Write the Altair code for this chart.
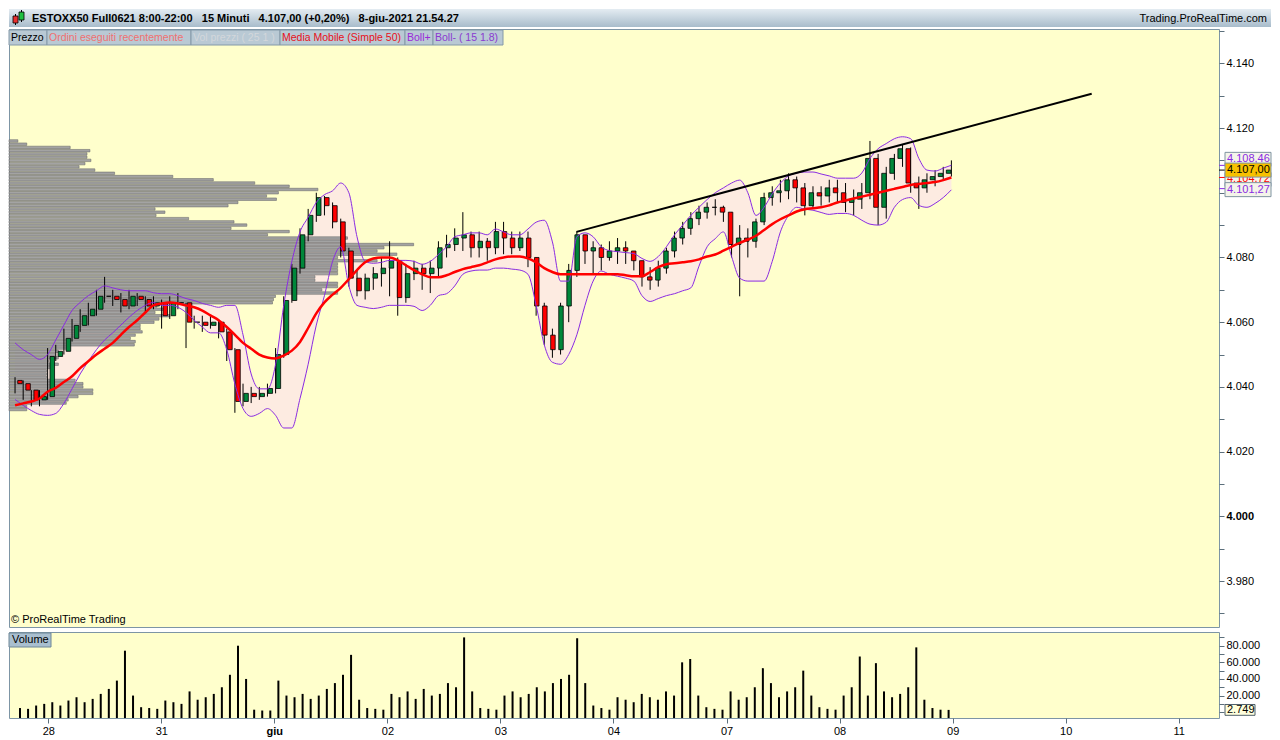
import json
import altair as alt
import pandas as pd

# ---------------- data ----------------
SESSION_LABELS = ["27", "28", "31", "giu", "02", "03", "04", "07", "08", "09", "10", "11"]
MONTH_LABEL = "giu"
BARS_PER_SESSION = 14          # hourly bars, 8:00-22:00
FIRST_SLOT = 10                # first bar visible in session 0

OPEN0 = 4042
CLOSE = [
    4041, 4039, 4036, 4037,
    4049.4, 4051, 4055, 4059, 4062, 4064, 4068, 4068, 4067, 4065, 4068, 4067, 4065, 4066,
    4062, 4066, 4066, 4060, 4060, 4059, 4060, 4057, 4051.5, 4035.5, 4038, 4037, 4038, 4039.5,
    4050, 4066.7, 4076.7, 4087, 4093, 4098.5, 4096, 4091, 4082, 4073.6, 4069.7, 4073.6, 4075, 4076.7,
    4079, 4067.6, 4075, 4076.7, 4075, 4076.7, 4083, 4084, 4086, 4087, 4083, 4085, 4083, 4088,
    4086, 4083, 4086, 4080, 4065, 4056, 4051.5, 4065, 4076, 4087, 4082, 4083, 4080, 4082,
    4083, 4082, 4079, 4074, 4073, 4076.7, 4082, 4086, 4089, 4092, 4094, 4095.5, 4095.5, 4094,
    4084, 4086, 4085, 4091, 4098.5, 4100, 4100.6, 4104, 4101.5, 4096, 4100, 4099, 4101.5, 4100,
    4097, 4098, 4100, 4110.6, 4095.5, 4106, 4110.6, 4113.6, 4103, 4101.5, 4104, 4105, 4106, 4107,
]
HIGH = [
    4043, 4042, 4039, 4039,
    4052, 4053, 4058, 4061, 4064, 4066, 4070, 4074, 4070, 4069, 4070, 4069, 4068, 4068,
    4067, 4068, 4069, 4066, 4062, 4062, 4062, 4061, 4058, 4052, 4041, 4040, 4040, 4041,
    4052, 4068, 4078, 4089, 4095, 4100, 4099, 4097, 4092, 4083, 4076, 4075, 4077, 4080,
    4085, 4080, 4078, 4079, 4078, 4079, 4085, 4087, 4089, 4094, 4088, 4088, 4086, 4091,
    4091, 4088, 4088, 4088, 4080, 4066, 4058, 4066, 4078, 4088, 4087, 4085, 4084, 4085,
    4086, 4085, 4082, 4079, 4077, 4079, 4083, 4088, 4091, 4094, 4096, 4097, 4098, 4096,
    4094, 4090, 4089, 4092, 4100, 4102, 4104, 4106, 4105, 4103, 4102, 4102, 4104, 4104,
    4103, 4101, 4103, 4116, 4112, 4108, 4112, 4115, 4114, 4105, 4106, 4107, 4108, 4110,
]
LOW = [
    4038, 4036, 4034, 4034,
    4036, 4048, 4050, 4054, 4057, 4059, 4062, 4066, 4065, 4063, 4064, 4065, 4063, 4064,
    4058, 4061, 4064, 4052, 4058, 4057, 4058, 4055, 4048, 4032, 4034, 4035, 4036, 4037,
    4038, 4049, 4066, 4075, 4085, 4091, 4093, 4089, 4080, 4071, 4068, 4067, 4070, 4071,
    4068, 4062, 4066, 4073, 4070, 4069, 4074, 4080, 4082, 4082, 4080, 4080, 4079, 4081,
    4081, 4081, 4082, 4077, 4062, 4053, 4049, 4050, 4060, 4074, 4078, 4075, 4076, 4079,
    4078, 4078, 4076, 4071, 4070, 4071, 4075, 4080, 4084, 4087, 4090, 4092, 4093, 4091,
    4080, 4068, 4080, 4083, 4090, 4096, 4097, 4098, 4097, 4093, 4095, 4096, 4097, 4097,
    4094, 4093, 4095, 4098, 4090, 4092, 4104, 4108, 4100, 4095, 4100, 4102, 4104, 4105,
]
VOLUME = [
    5000, 4000, 8000, 10000,
    12000, 8000, 14000, 18000, 12000, 16000, 22000, 28000, 38000, 74000, 20000, 6000, 5000, 4000,
    14000, 12000, 10000, 25000, 15000, 18000, 22000, 30000, 45000, 80000, 40000, 3000, 2000, 2000,
    38000, 20000, 18000, 22000, 16000, 20000, 28000, 35000, 45000, 69000, 15000, 5000, 4000, 3000,
    22000, 18000, 25000, 16000, 28000, 20000, 22000, 35000, 30000, 90000, 25000, 5000, 4000, 3000,
    20000, 25000, 18000, 22000, 30000, 25000, 35000, 40000, 45000, 89000, 35000, 8000, 5000, 3000,
    18000, 15000, 12000, 22000, 18000, 15000, 25000, 20000, 60000, 64000, 20000, 6000, 4000, 3000,
    25000, 15000, 18000, 30000, 53000, 35000, 18000, 25000, 30000, 50000, 20000, 6000, 4000, 3000,
    20000, 30000, 67000, 20000, 59000, 25000, 18000, 22000, 30000, 78000, 15000, 5000, 3000, 2749,
]
MA50 = [
    4034.3, 4034.9, 4035.5, 4036.4,
    4038.5, 4039.7, 4041.5, 4043.3, 4045.8, 4047.9, 4050.0, 4051.8, 4053.6, 4056.1, 4058.5, 4060.6, 4063.0, 4065.2,
    4065.8, 4066.1, 4065.8, 4065.2, 4064.6, 4063.6, 4062.1, 4060.6, 4058.5, 4056.1, 4053.6, 4051.8, 4050.0, 4049.1,
    4048.8, 4049.7, 4051.2, 4053.9, 4058.2, 4062.7, 4066.1, 4068.5, 4070.6, 4073.3, 4076.1, 4078.5, 4079.7, 4080.0,
    4080.0, 4079.1, 4077.6, 4076.1, 4074.8, 4073.9, 4073.9, 4074.5, 4075.5, 4076.4, 4077.0, 4077.6, 4078.5, 4079.4,
    4080.0, 4080.3, 4080.3, 4079.7, 4078.5, 4076.7, 4075.5, 4074.8, 4074.8, 4074.8, 4074.8, 4074.8, 4074.8, 4074.8,
    4074.8, 4074.5, 4074.2, 4074.2, 4075.5, 4077.0, 4077.9, 4078.2, 4078.5, 4078.8, 4079.4, 4080.3, 4080.9, 4082.1,
    4083.3, 4084.5, 4085.5, 4086.7, 4088.5, 4090.3, 4091.8, 4093.0, 4094.2, 4094.9, 4095.2, 4095.5, 4096.1, 4097.0,
    4097.6, 4098.2, 4098.8, 4099.4, 4100.0, 4100.6, 4101.2, 4101.8, 4102.4, 4102.7, 4103.0, 4103.3, 4103.9, 4104.7,
]
BOLL_UP = [
    4053.6, 4051.5, 4050.0, 4048.5,
    4050.0, 4054.5, 4059.1, 4063.6, 4066.1, 4068.2, 4069.7, 4071.2, 4070.6, 4070.0, 4069.7, 4069.7, 4069.7, 4069.1,
    4068.8, 4068.8, 4068.2, 4067.3, 4066.7, 4065.8, 4065.2, 4064.6, 4065.2, 4065.2, 4056.1, 4044.0, 4039.4, 4039.4,
    4047.0, 4065.2, 4078.8, 4087.9, 4092.4, 4097.0, 4099.4, 4100.6, 4103.0, 4100.0, 4086.4, 4078.8, 4078.2, 4078.5,
    4079.1, 4079.1, 4079.1, 4078.8, 4077.9, 4078.8, 4080.9, 4083.3, 4086.4, 4087.0, 4087.6, 4087.6, 4087.0, 4088.8,
    4087.9, 4087.0, 4087.0, 4088.8, 4090.9, 4091.5, 4084.8, 4072.7, 4072.7, 4086.4, 4087.6, 4086.4, 4083.3, 4082.1,
    4081.8, 4081.5, 4081.2, 4079.7, 4078.8, 4080.3, 4083.3, 4087.0, 4090.0, 4093.0, 4095.5, 4097.9, 4100.0, 4101.5,
    4103.0, 4103.9, 4100.0, 4093.0, 4095.5, 4099.7, 4103.0, 4105.2, 4106.1, 4106.4, 4106.4, 4105.8, 4105.2, 4104.5,
    4104.5, 4104.5, 4106.1, 4110.6, 4113.6, 4115.2, 4116.7, 4117.3, 4116.7, 4110.6, 4107.0, 4106.7, 4107.6, 4108.5,
]
BOLL_DN = [
    4036.1, 4034.3, 4032.7, 4031.5,
    4031.2, 4031.8, 4034.9, 4039.4, 4044.0, 4047.9, 4051.5, 4054.5, 4056.7, 4059.1, 4061.5, 4063.6, 4065.2, 4066.1,
    4065.2, 4065.2, 4064.6, 4063.0, 4060.6, 4058.5, 4056.7, 4056.7, 4051.5, 4040.9, 4033.3, 4030.9, 4031.8, 4033.3,
    4031.2, 4027.3, 4027.3, 4036.4, 4047.0, 4059.1, 4068.2, 4078.8, 4083.3, 4071.2, 4065.2, 4064.6, 4064.2, 4064.6,
    4065.2, 4065.2, 4065.2, 4064.9, 4063.6, 4065.2, 4068.2, 4068.8, 4071.2, 4074.8, 4075.8, 4076.1, 4076.1, 4076.7,
    4076.7, 4076.4, 4076.1, 4074.8, 4065.2, 4053.0, 4047.6, 4047.0, 4050.0, 4056.1, 4065.2, 4072.7, 4075.8, 4074.8,
    4074.2, 4073.6, 4072.7, 4068.2, 4066.4, 4067.3, 4068.2, 4068.8, 4069.7, 4070.6, 4077.3, 4083.3, 4085.8, 4087.9,
    4080.3, 4073.6, 4072.7, 4072.7, 4072.7, 4078.8, 4087.9, 4093.0, 4095.5, 4094.9, 4094.6, 4093.9, 4093.3, 4093.6,
    4093.6, 4093.0, 4091.5, 4090.3, 4090.0, 4090.9, 4095.5, 4097.9, 4098.5, 4096.1, 4095.5, 4096.7, 4098.5, 4100.9,
]
# volume-at-price profile (one row per index point, from the top level down)
PROFILE_TOP = 4116
PROFILE_VOL = [
    9, 18, 62, 82, 79, 79, 83, 77, 71, 87,
    107, 166, 207, 249, 284, 313, 273, 261, 271, 232,
    222, 148, 158, 149, 182, 228, 241, 225, 284, 262,
    343, 340, 410, 380, 373, 393, 333, 373, 333, 333,
    333, 333, 310, 310, 333, 333, 317, 333, 270, 268,
    267, 150, 157, 148, 163, 152, 147, 133, 133, 135,
    128, 123, 128, 127, 61, 50, 47, 50, 40, 50,
    42, 38, 38, 38, 67, 75, 75, 85, 85, 70,
    60, 58, 18, 18,
]
PROFILE_FULL = 1226
# drawn trend line (session time, price)
TREND_T = [5.675, 10.195]
TREND_P = [4087.9, 4130.6]
# last values shown on the price axis
LAST_VALUES = [4108.46, 4104.72, 4101.27, 4107.00]
PCT_CHANGE = 0.20

# ---------------- style / layout ----------------
FONT = "Liberation Sans, Arial, Helvetica, sans-serif"
YELLOW = "#ffffcc"
BAND_FILL = "#fdebe1"
PURPLE = "#8a2be2"
MA_RED = "#ff0000"
GREEN = "#00873a"
RED = "#ff0000"
BORDER = "#7d95a5"
TICK = "#5c6f7c"

W = 1210
TOTAL_W = 1262
HEADER_H = 18
PRICE_H = 598
VOL_H = 86
X_DOMAIN = [0.697, 11.312]
P_DOMAIN = [3965.8, 4150.6]
V_DOMAIN = [-7000, 96500]

TAGS = [
    ("Prezzo", "#000000", 0, 38),
    ("Ordini eseguiti recentemente", "#f07070", 38, 182),
    ("Vol prezzi ( 25 1 )", "#d3d7db", 182, 271),
    ("Media Mobile (Simple 50)", "#e8101a", 271, 396),
    ("Boll+", "#9a2ad8", 396, 424),
    ("Boll-  ( 15 1.8)", "#8a3ad0", 424, 494),
]
LAST_FG = [PURPLE, "#ff0000", PURPLE, "#000000"]
LAST_BG = ["#f4f4ea", "#f4f4ea", "#f4f4ea", "#f7c100"]
LAST_SHIFT_PX = [-6, 2, 1, 0]


def it_num(v, dec):
    s = f"{v:,.{dec}f}"
    return s.replace(",", "X").replace(".", ",").replace("X", ".")


# ---------------- frames ----------------
rows = []
for i, c in enumerate(CLOSE):
    slot = FIRST_SLOT + i
    session, k = divmod(slot, BARS_PER_SESSION)
    t = session + (k + 0.5) / BARS_PER_SESSION
    o = CLOSE[i - 1] if i else OPEN0
    rows.append(dict(t=t, open=o, close=c, high=HIGH[i], low=LOW[i], vol=VOLUME[i],
                     ma=MA50[i], up=BOLL_UP[i], dn=BOLL_DN[i]))
df = pd.DataFrame(rows)
pdf = pd.DataFrame({"price": [PROFILE_TOP - i for i in range(len(PROFILE_VOL))], "pv": PROFILE_VOL})
tdf = pd.DataFrame({"t": TREND_T, "p": TREND_P})
one = pd.DataFrame({"a": [0]})
tags_df = pd.DataFrame([dict(label=l, fg=c, x0=a, x1=b, tx=a + 2) for l, c, a, b in TAGS])

xs = alt.Scale(domain=X_DOMAIN, nice=False, zero=False)
ps = alt.Scale(domain=P_DOMAIN, nice=False, zero=False)
vs = alt.Scale(domain=V_DOMAIN, nice=False, zero=False)
PX_PER_PT = PRICE_H / (P_DOMAIN[1] - P_DOMAIN[0])

p_axis = alt.Axis(
    orient="right", values=list(range(3970, 4151, 10)),
    labelExpr="datum.value % 20 == 0 ? replace(format(datum.value, ',d'), ',', '.') : ''",
    labelFontWeight={"condition": {"test": "datum.value == 4000", "value": "bold"}, "value": "normal"},
    title=None, grid=False, domain=False, tickSize=5, tickColor=TICK, labelColor="black",
    labelFontSize=11, labelFont=FONT, labelPadding=2,
)


def PY(field):
    return alt.Y(field, type="quantitative", scale=ps, axis=p_axis)


X = alt.X("t:Q", scale=xs, axis=None)

band = alt.Chart(df).mark_area(color=BAND_FILL, interpolate="monotone").encode(
    x=X, y=PY("dn"), y2="up:Q")
profile = alt.Chart(pdf).transform_calculate(
    lo="datum.price - 0.38", hi="datum.price + 0.38", z="0"
).mark_rect(fill="#a3a3a3", stroke="#6e6e6e", strokeWidth=0.6).encode(
    x=alt.X("z:Q", scale=alt.Scale(domain=[0, PROFILE_FULL], nice=False, zero=False), axis=None),
    x2="pv:Q", y=PY("lo"), y2="hi:Q")
wick = alt.Chart(df).mark_rule(color="black", strokeWidth=1).encode(
    x=X, y=PY("low"), y2="high:Q")
body = alt.Chart(df).mark_bar(width=4.5, stroke="black", strokeWidth=0.8).encode(
    x=X, y=PY("open"), y2="close:Q",
    fill=alt.condition("datum.close >= datum.open", alt.value(GREEN), alt.value(RED)))
up_line = alt.Chart(df).mark_line(color=PURPLE, strokeWidth=1, interpolate="monotone").encode(
    x=X, y=PY("up"))
dn_line = alt.Chart(df).mark_line(color=PURPLE, strokeWidth=1, interpolate="monotone").encode(
    x=X, y=PY("dn"))
ma_line = alt.Chart(df).mark_line(color=MA_RED, strokeWidth=2.5, interpolate="monotone").encode(
    x=X, y=PY("ma"))
trend = alt.Chart(tdf).mark_line(color="black", strokeWidth=2).encode(
    x=alt.X("t:Q", scale=xs, axis=None), y=PY("p"))
copyright_txt = alt.Chart(one).mark_text(align="left", baseline="middle", font=FONT, fontSize=11,
                                          color="black").encode(
    x=alt.value(2), y=alt.value(PRICE_H - 7), text=alt.value("\u00a9 ProRealTime Trading"))
tag_rect = alt.Chart(tags_df).mark_rect(fill="#b9c9d4", stroke="#8499a8", strokeWidth=1).encode(
    x=alt.X("x0:Q", scale=None, axis=None), x2="x1:Q", y=alt.value(1), y2=alt.value(16))
tag_text = alt.Chart(tags_df).mark_text(align="left", baseline="middle", font=FONT, fontSize=10.5).encode(
    x=alt.X("tx:Q", scale=None, axis=None), y=alt.value(9), text="label:N",
    color=alt.Color("fg:N", scale=None))

box_layers = []
for v, fg, bg, sh in zip(LAST_VALUES, LAST_FG, LAST_BG, LAST_SHIFT_PX):
    c = v - sh / PX_PER_PT
    half = 7 / PX_PER_PT
    bdf = pd.DataFrame({"v": [v], "c": [c], "lo": [c - half], "hi": [c + half], "lab": [it_num(v, 2)]})
    box_layers.append(alt.Chart(bdf).mark_rule(color=fg, strokeWidth=1).encode(
        x=alt.value(W), x2=alt.value(W + 6), y=PY("v")))
    box_layers.append(alt.Chart(bdf).mark_rect(fill=bg, stroke="#7f93a1", strokeWidth=1).encode(
        x=alt.value(W + 6), x2=alt.value(W + 52), y=PY("lo"), y2="hi:Q"))
    box_layers.append(alt.Chart(bdf).mark_text(align="left", baseline="middle", font=FONT, fontSize=11,
                                               color=fg).encode(
        x=alt.value(W + 8), y=PY("c"), text="lab:N"))

price = alt.layer(
    band, profile, wick, body, up_line, dn_line, ma_line, trend, copyright_txt, tag_rect, tag_text,
    *box_layers
).resolve_scale(x="independent").properties(
    width=W, height=PRICE_H, view=alt.ViewBackground(fill=YELLOW, stroke=BORDER))

# ---------------- volume panel ----------------
month_idx = SESSION_LABELS.index(MONTH_LABEL)
x_axis = alt.Axis(
    orient="bottom", values=list(range(1, len(SESSION_LABELS))),
    labelExpr=json.dumps(SESSION_LABELS) + "[datum.value]",
    labelFontWeight={"condition": {"test": f"datum.value == {month_idx}", "value": "bold"}, "value": "normal"},
    title=None, grid=False, domain=False, tickSize=5, tickColor=TICK, labelColor="black",
    labelFontSize=11, labelFont=FONT, labelPadding=2,
)
v_axis = alt.Axis(
    orient="right", values=list(range(0, 96001, 10000)),
    labelExpr="datum.value > 0 && datum.value % 20000 == 0 ? replace(format(datum.value, ',d'), ',', '.') : ''",
    title=None, grid=False, domain=False, tickSize=5, tickColor=TICK, labelColor="black",
    labelFontSize=11, labelFont=FONT, labelPadding=2,
)


def VY(field):
    return alt.Y(field, type="quantitative", scale=vs, axis=v_axis)


vbars = alt.Chart(df).mark_bar(width=2, color="black").encode(
    x=alt.X("t:Q", scale=xs, axis=x_axis), y=VY("vol"),
    y2=alt.datum(V_DOMAIN[0]))
vtag_rect = alt.Chart(one).mark_rect(fill="#a9bfcf", stroke="#6e8797", strokeWidth=1).encode(
    x=alt.value(0), x2=alt.value(42), y=alt.value(1), y2=alt.value(15))
vtag_text = alt.Chart(one).mark_text(align="left", baseline="middle", font=FONT, fontSize=11,
                                     color="black").encode(
    x=alt.value(3), y=alt.value(8), text=alt.value("Volume"))
last_vol = VOLUME[-1]
vb = pd.DataFrame({"v": [last_vol], "lo": [last_vol - 6500], "hi": [last_vol + 6500],
                   "lab": [f"{last_vol:,}".replace(",", ".")]})
vbox_rect = alt.Chart(vb).mark_rect(fill="#ffffdd", stroke="#4f5f6a", strokeWidth=1).encode(
    x=alt.value(W + 6), x2=alt.value(W + 36), y=VY("lo"), y2="hi:Q")
vbox_text = alt.Chart(vb).mark_text(align="left", baseline="middle", font=FONT, fontSize=11,
                                    color="black").encode(
    x=alt.value(W + 8), y=VY("v"), text="lab:N")
volume = alt.layer(vbars, vtag_rect, vtag_text, vbox_rect, vbox_text).properties(
    width=W, height=VOL_H, view=alt.ViewBackground(fill=YELLOW, stroke=BORDER))

# ---------------- header ----------------
grad = alt.LinearGradient(gradient="linear", x1=0, x2=0, y1=0, y2=1,
                          stops=[alt.GradientStop(color="#e4ecf2", offset=0),
                                 alt.GradientStop(color="#a8bccb", offset=1)])
hdr_bg = alt.Chart(one).mark_rect(fill=grad).encode(
    x=alt.value(0), x2=alt.value(TOTAL_W), y=alt.value(0), y2=alt.value(HEADER_H))
last_close = CLOSE[-1]
sp = "\u00a0\u00a0\u00a0"
hdr_str = ("ESTOXX50 Full0621 8:00-22:00" + sp + "15 Minuti" + sp +
           f"{it_num(last_close, 2)} (+{it_num(PCT_CHANGE, 2)}%)" + sp + "8-giu-2021 21.54.27")
hdr_text = alt.Chart(one).mark_text(align="left", baseline="middle", font=FONT, fontSize=11,
                                    fontWeight="bold", color="black").encode(
    x=alt.value(23), y=alt.value(9.5), text=alt.value(hdr_str))
hdr_right = alt.Chart(one).mark_text(align="right", baseline="middle", font=FONT, fontSize=11,
                                     color="black").encode(
    x=alt.value(TOTAL_W - 4), y=alt.value(9.5), text=alt.value("Trading.ProRealTime.com"))
icon_w1 = alt.Chart(one).mark_rule(color="black").encode(x=alt.value(6.5), y=alt.value(5), y2=alt.value(16))
icon_w2 = alt.Chart(one).mark_rule(color="black").encode(x=alt.value(12.5), y=alt.value(1), y2=alt.value(13))
icon_r = alt.Chart(one).mark_rect(fill="#e83030", stroke="black", strokeWidth=0.8).encode(
    x=alt.value(4), x2=alt.value(9), y=alt.value(7), y2=alt.value(14))
icon_g = alt.Chart(one).mark_rect(fill="#20c040", stroke="black", strokeWidth=0.8).encode(
    x=alt.value(10), x2=alt.value(15), y=alt.value(3), y2=alt.value(11))
header = alt.layer(hdr_bg, icon_w1, icon_w2, icon_r, icon_g, hdr_text, hdr_right).properties(
    width=TOTAL_W, height=HEADER_H, view=alt.ViewBackground(stroke="transparent"))

lower = alt.vconcat(price, volume, spacing=3)
chart = alt.vconcat(header, lower, spacing=0).properties(
    padding={"left": 0, "top": 0, "right": 0, "bottom": 0}, background="white"
).configure_axis(labelFont=FONT).configure_text(font=FONT)

chart.save("out.html", embed_options={"renderer": "svg", "actions": False})
